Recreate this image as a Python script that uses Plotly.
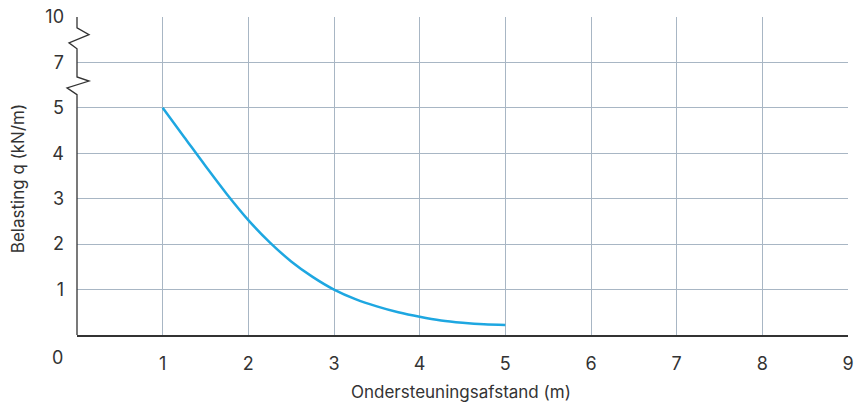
import plotly.graph_objects as go

# --- data --------------------------------------------------------------
afstand = [1.0, 1.25, 1.5, 1.75, 2.0, 2.25, 2.5, 2.75, 3.0,
           3.25, 3.5, 3.75, 4.0, 4.25, 4.5, 4.75, 5.0]
belasting = [5.0, 4.36, 3.72, 3.1, 2.53, 2.04, 1.62, 1.28, 1.0,
             0.79, 0.63, 0.5, 0.4, 0.32, 0.27, 0.235, 0.22]

x_ticks = [1, 2, 3, 4, 5, 6, 7, 8, 9]
y_tick_pos = [1, 2, 3, 4, 5, 6, 7]          # broken axis: 5 -> 7 -> 10
y_tick_text = ["1", "2", "3", "4", "5", "7", "10"]

FONT = "Inter, Open Sans, sans-serif"
TXT = "#333333"
GRID = "#a8b6c4"
LINE = "#1ea7e1"

fig = go.Figure()
fig.add_trace(go.Scatter(
    x=afstand, y=belasting, mode="lines",
    line=dict(color=LINE, width=2.5, shape="spline"),
    showlegend=False, hoverinfo="skip",
))

# y-axis line with zigzag breaks (x in pixels from the left edge, y in data units)
fig.add_shape(
    type="path", xref="paper", yref="y", xsizemode="pixel", xanchor=0,
    path=("M0,0 L0,5.29 L-10,5.44 L12,5.59 L0,5.68 "
          "L0,6.30 L-8,6.43 L12,6.61 L0,6.76 L0,7"),
    line=dict(color="#333333", width=1.3),
)

# origin label sits left of the axis
fig.add_annotation(x=0, y=0, xref="x", yref="y", text="0", showarrow=False,
                   xshift=-20, yshift=-22, font=dict(size=18, color=TXT, family=FONT))

# axis titles
fig.add_annotation(x=-0.0765, y=0.49, xref="paper", yref="paper", textangle=-90,
                   text="Belasting q (kN/m)", showarrow=False,
                   xanchor="center", yanchor="middle", font=dict(size=17, color=TXT))
fig.add_annotation(x=0.498, y=-0.179, xref="paper", yref="paper",
                   text="Ondersteuningsafstand (m)", showarrow=False,
                   xanchor="center", yanchor="middle", font=dict(size=17, color=TXT))

# grid only on the inner ticks (none on the right / top edge)
grid_x = dict(tickvals=x_ticks[:-1], showgrid=True, gridcolor=GRID, gridwidth=1, ticks="")
grid_y = dict(tickvals=y_tick_pos[:-1], showgrid=True, gridcolor=GRID, gridwidth=1, ticks="")

fig.update_layout(
    width=858, height=403,
    margin=dict(l=77, r=10, t=17, b=68),
    plot_bgcolor="white", paper_bgcolor="white",
    font=dict(family=FONT, color=TXT),
    xaxis=dict(
        range=[0, 9], tickvals=x_ticks, ticktext=[str(v) for v in x_ticks],
        showgrid=False, minor=grid_x, zeroline=False,
        showline=True, linecolor="#333333", linewidth=1.5,
        ticks="", ticklabelstandoff=12, tickfont=dict(size=18), automargin=False,
    ),
    yaxis=dict(
        range=[0, 7], tickvals=y_tick_pos, ticktext=y_tick_text,
        showgrid=False, minor=grid_y, zeroline=False,
        showline=False, ticks="", ticklabelstandoff=12, tickfont=dict(size=18),
        automargin=False,
    ),
)

# drop the default 8px body margin so the figure fills the window exactly
fig.write_html("out.html", config={"displayModeBar": False},
               post_script="document.body.style.margin = '0';")
